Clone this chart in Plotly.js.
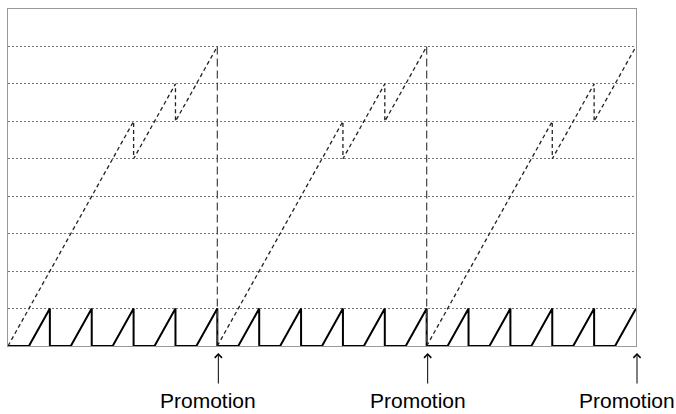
<!DOCTYPE html>
<html>
<head>
<meta charset="utf-8">
<script src="https://cdn.plot.ly/plotly-3.0.1.min.js"></script>
<style>html,body{margin:0;padding:0;background:#fff;}#chart{width:676px;height:414px;}</style>
</head>
<body>
<div id="chart"></div>
<script>
// Small-step sawtooth (solid)
var sawX = [0,1,2,2,3,4,4,5,6,6,7,8,8,9,10,10,11,12,12,13,14,14,15,16,16,17,18,18,19,20,20,21,22,22,23,24,24,25,26,26,27,28,28,29,30];
var sawY = [0,0,1,0,0,1,0,0,1,0,0,1,0,0,1,0,0,1,0,0,1,0,0,1,0,0,1,0,0,1,0,0,1,0,0,1,0,0,1,0,0,1,0,0,1];
// Rising level line (dashed)
var levelX = [0,6,6,8,8,10,null,10,16,16,18,18,20,null,20,26,26,28,28,30];
var levelY = [0,6,5,7,6,8,null,0,6,5,7,6,8,null,0,6,5,7,6,8];
// Drops at promotion
var dropX = [10,10,null,20,20];
var dropY = [8,0,null,8,0];
// Promotion markers
var promoX = [10,20,30];
var promoLabels = ['Promotion','Promotion','Promotion'];
var gridVals = [1,2,3,4,5,6,7,8];

var traces = [
  {x: sawX, y: sawY, mode: 'lines', line: {color: '#000', width: 2}, hoverinfo: 'skip'},
  {x: levelX, y: levelY, mode: 'lines', line: {color: '#222', width: 1.3, dash: '4px,3px'}, hoverinfo: 'skip'},
  {x: dropX, y: dropY, mode: 'lines', line: {color: '#444', width: 1.2, dash: '8px,4px'}, hoverinfo: 'skip'}
];

var annotations = [];
promoX.forEach(function (px, i) {
  annotations.push({
    x: px, xref: 'x', y: -0.021, yref: 'paper', xshift: 1,
    text: '', showarrow: true, ax: 0, ay: 32, axref: 'pixel', ayref: 'pixel',
    arrowhead: 4, arrowsize: 1.4, arrowwidth: 1, arrowcolor: '#000', standoff: 0,
    font: {size: 1}
  });
  annotations.push({
    x: px, xref: 'x', y: -0.163, yref: 'paper', xshift: -9,
    text: promoLabels[i], showarrow: false, xanchor: 'center', yanchor: 'middle',
    font: {family: 'Liberation Sans, Arial, sans-serif', size: 21, color: '#000'}
  });
});

var layout = {
  width: 676, height: 414,
  margin: {l: 8, r: 40, t: 9, b: 68},
  paper_bgcolor: '#fff', plot_bgcolor: '#fff',
  showlegend: false,
  xaxis: {range: [0, 30], showgrid: false, zeroline: false, showticklabels: false, ticks: '',
          showline: true, mirror: true, linecolor: '#999', linewidth: 1, fixedrange: true},
  yaxis: {range: [0, 9], tickvals: gridVals, showgrid: true, gridcolor: '#777', griddash: '2px,2px', gridwidth: 1,
          zeroline: false, showticklabels: false, ticks: '',
          showline: true, mirror: true, linecolor: '#999', linewidth: 1, fixedrange: true},
  annotations: annotations
};

Plotly.newPlot('chart', traces, layout, {staticPlot: true, displayModeBar: false});
</script>
</body>
</html>
